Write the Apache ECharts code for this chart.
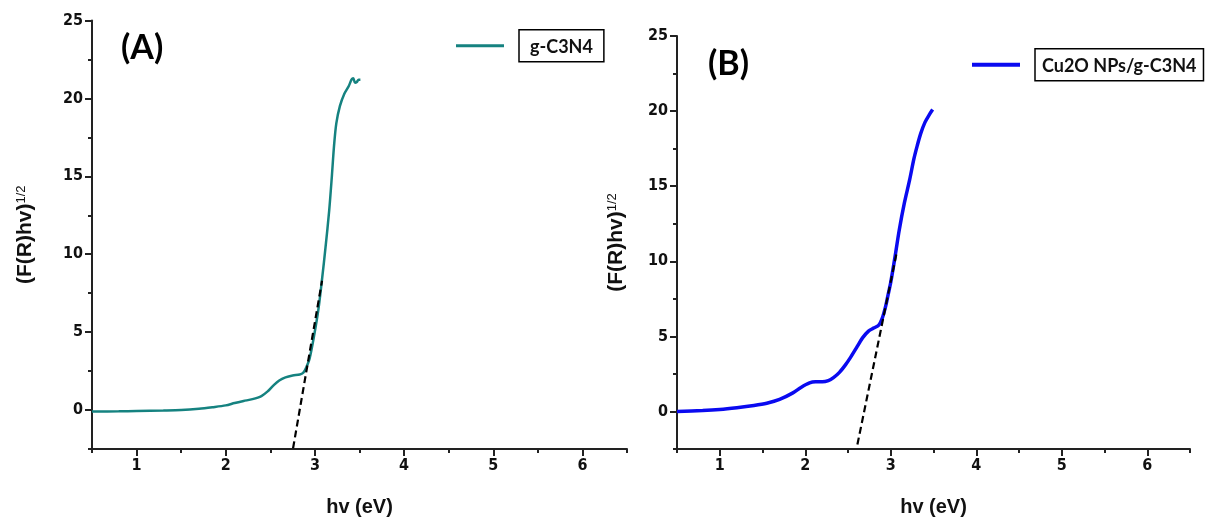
<!DOCTYPE html>
<html>
<head>
<meta charset="utf-8">
<script src="https://cdn.jsdelivr.net/npm/echarts@6/dist/echarts.min.js"></script>
<style>
html,body{margin:0;padding:0;background:#fff;}
#chart{width:1208px;height:522px;}
</style>
</head>
<body>
<div id="chart"></div>
<script>
// ---- Data ----
const seriesNames = ['g-C3N4', 'Cu2O NPs/g-C3N4'];
const panelLabels = ['(A)', '(B)'];

const hvA = [0.5, 0.8, 1.0, 1.3, 1.5, 1.7, 1.85, 2.0, 2.1, 2.2, 2.3, 2.4, 2.47, 2.53, 2.6, 2.67, 2.75, 2.83, 2.87, 2.9, 2.94, 2.99, 3.04, 3.08, 3.12, 3.16, 3.19, 3.215, 3.24, 3.28, 3.33, 3.38, 3.41, 3.43, 3.45, 3.47, 3.49, 3.51];
const fA  = [-0.1, -0.08, -0.06, -0.03, 0.0, 0.08, 0.18, 0.3, 0.45, 0.58, 0.7, 0.9, 1.2, 1.55, 1.9, 2.1, 2.22, 2.28, 2.4, 2.7, 3.3, 4.75, 6.5, 8.4, 10.5, 12.8, 15.0, 17.0, 18.4, 19.5, 20.3, 20.8, 21.2, 21.3, 21.0, 21.05, 21.2, 21.2];

const hvB = [0.5, 0.8, 1.0, 1.2, 1.4, 1.55, 1.7, 1.85, 1.95, 2.05, 2.12, 2.2, 2.27, 2.33, 2.4, 2.47, 2.53, 2.6, 2.67, 2.74, 2.8, 2.86, 2.9, 2.94, 2.97, 3.0, 3.05, 3.1, 3.16, 3.22, 3.27, 3.31, 3.35, 3.4, 3.45, 3.49];
const fB  = [0.0, 0.06, 0.13, 0.25, 0.4, 0.55, 0.8, 1.22, 1.6, 1.9, 1.97, 1.97, 2.05, 2.25, 2.6, 3.1, 3.6, 4.25, 4.9, 5.35, 5.55, 5.75, 6.2, 7.0, 7.8, 8.6, 10.3, 12.1, 13.9, 15.4, 16.8, 17.7, 18.5, 19.25, 19.75, 20.1];

// Tangent (band-gap extrapolation) lines
const tangentA = [[2.755, -2.45], [3.08, 8.3]];
const tangentB = [[2.61, -2.2], [3.07, 10.6]];

const xMajor = [1, 2, 3, 4, 5, 6];
const xMinor = [0.5, 1.5, 2.5, 3.5, 4.5, 5.5, 6.5];
const yMajor = [0, 5, 10, 15, 20, 25];
const yMinor = [-2.5, 2.5, 7.5, 12.5, 17.5, 22.5];

const xTitle = 'hv (eV)';
const yTitle = '{a|(F(R)hv)}{s|1/2}';

// ---- Styling ----
const tickFont = '"Liberation Sans Narrow", "DejaVu Sans Condensed", "Liberation Sans", Arial, sans-serif';
const titleFont = '"Liberation Sans", Arial, sans-serif';
const calibriLike = 'Lato, "Open Sans", sans-serif';
const axisColor = '#222';
const colors = ['#158280', '#0a0af0'];

const grids = [
  {left: 92, top: 20.5, width: 535, height: 430},
  {left: 677, top: 36, width: 513, height: 413}
];

function xAxes(gi, nameGap) {
  return [
    {
      gridIndex: gi, type: 'value', min: 0.5, max: 6.5, position: 'bottom',
      axisLine: {onZero: false, lineStyle: {color: axisColor, width: 2}},
      axisTick: {length: 7, lineStyle: {color: axisColor, width: 2}, customValues: xMajor},
      axisLabel: {customValues: xMajor, fontFamily: tickFont, fontWeight: 'bold', fontSize: 16, color: '#111', margin: 9},
      splitLine: {show: false},
      name: xTitle, nameLocation: 'middle', nameGap: nameGap,
      nameTextStyle: {fontFamily: titleFont, fontWeight: 'bold', fontSize: 20, color: '#111'}
    },
    {
      gridIndex: gi, type: 'value', min: 0.5, max: 6.5, position: 'bottom',
      axisLine: {show: false, onZero: false},
      axisTick: {length: 4, lineStyle: {color: axisColor, width: 2}, customValues: xMinor},
      axisLabel: {show: false}, splitLine: {show: false}
    }
  ];
}
function yAxes(gi, nameGap) {
  return [
    {
      gridIndex: gi, type: 'value', min: -2.5, max: 25, position: 'left',
      axisLine: {show: true, onZero: false, lineStyle: {color: axisColor, width: 2}},
      axisTick: {show: true, length: 7, lineStyle: {color: axisColor, width: 2}, customValues: yMajor},
      axisLabel: {customValues: yMajor, fontFamily: tickFont, fontWeight: 'bold', fontSize: 16, color: '#111', margin: 9},
      splitLine: {show: false},
      name: yTitle, nameLocation: 'middle', nameGap: nameGap,
      nameTextStyle: {
        rich: {
          a: {fontFamily: titleFont, fontWeight: 'bold', fontSize: 21, color: '#111'},
          s: {fontFamily: titleFont, fontSize: 13, color: '#111', verticalAlign: 'top'}
        }
      }
    },
    {
      gridIndex: gi, type: 'value', min: -2.5, max: 25, position: 'left', offset: 0,
      axisLine: {show: false, onZero: false},
      axisTick: {show: true, length: 4, lineStyle: {color: axisColor, width: 2}, customValues: yMinor},
      axisLabel: {show: false}, splitLine: {show: false}
    }
  ];
}

function zip(xs, ys) { return xs.map((x, i) => [x, ys[i]]); }

const legendRich = (fs, padX) => ({
  g: {width: 10},
  b: {fontFamily: calibriLike, fontWeight: 'bold', fontSize: fs, color: '#111',
      borderColor: '#000', borderWidth: 1.5, padding: [8, padX, 6, padX]}
});

const chart = echarts.init(document.getElementById('chart'), null, {renderer: 'canvas'});
chart.setOption({
  backgroundColor: '#fff',
  animation: false,
  title: [
    {text: panelLabels[0], left: 116, top: 26, textStyle: {fontFamily: calibriLike, fontWeight: 'bold', fontSize: 34, color: '#000'}},
    {text: panelLabels[1], left: 703, top: 42, textStyle: {fontFamily: calibriLike, fontWeight: 'bold', fontSize: 34, color: '#000'}}
  ],
  legend: [
    {data: [seriesNames[0]], left: 451, top: 24, orient: 'vertical', icon: 'rect', itemWidth: 48, itemHeight: 3,
     formatter: '{g|}{b|{name}}', textStyle: {rich: legendRich(18, 11)}},
    {data: [seriesNames[1]], left: 967, top: 43, orient: 'vertical', icon: 'rect', itemWidth: 48, itemHeight: 4,
     formatter: '{g|}{b|{name}}', textStyle: {rich: legendRich(18, 7)}}
  ],
  grid: grids,
  xAxis: [...xAxes(0, 48), ...xAxes(1, 48)],
  yAxis: [...yAxes(0, 56), ...yAxes(1, 50)],
  series: [
    {name: seriesNames[0], type: 'line', xAxisIndex: 0, yAxisIndex: 0, data: zip(hvA, fA),
     showSymbol: false, smooth: 0.3, lineStyle: {color: colors[0], width: 2.5}, itemStyle: {color: colors[0]}, z: 3},
    {name: 'tangentA', type: 'line', xAxisIndex: 0, yAxisIndex: 0, data: tangentA,
     showSymbol: false, lineStyle: {color: '#000', width: 2.2, type: [7, 4]}, z: 4},
    {name: seriesNames[1], type: 'line', xAxisIndex: 2, yAxisIndex: 2, data: zip(hvB, fB),
     showSymbol: false, smooth: 0.3, lineStyle: {color: colors[1], width: 3.5}, itemStyle: {color: colors[1]}, z: 3},
    {name: 'tangentB', type: 'line', xAxisIndex: 2, yAxisIndex: 2, data: tangentB,
     showSymbol: false, lineStyle: {color: '#000', width: 2.2, type: [7, 4]}, z: 4}
  ]
});
</script>
</body>
</html>
